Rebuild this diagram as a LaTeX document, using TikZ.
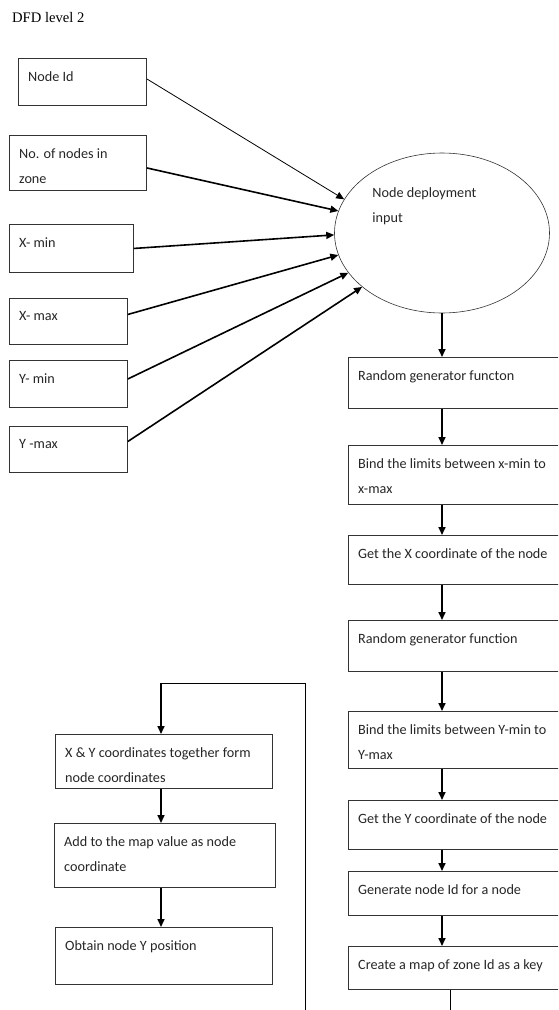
\documentclass[tikz,border=0pt]{standalone}
\usepackage{fontspec}
\setmainfont{Liberation Serif}
\newfontfamily\boxfont{Carlito}
\usetikzlibrary{shapes.geometric,arrows.meta}

\begin{document}
\begin{tikzpicture}[x=1pt,y=-1pt,
    procbox/.style={draw=black!80, line width=0.9pt, rectangle, anchor=north west, inner sep=0pt},
    txt/.style={anchor=north west, inner sep=0pt, align=left, text=black!85,
        font=\boxfont\fontsize{14.2}{25}\selectfont},
    boxtext/.style={txt, xshift=10pt, yshift=-13.5pt},
    flow/.style={line width=1.6pt, -{Triangle[length=8pt,width=7pt]}},
    link/.style={line width=0.7pt}]
    % Fix the page
    \clip (0,0) rectangle (558,1010);
    % Add the title
    \node[anchor=base west, inner sep=0pt, font=\fontsize{14.6}{16}\selectfont] (title) at (12,22) {DFD level 2};
    % Draw the input boxes
    \node[procbox, minimum width=128pt, minimum height=47pt, label={[boxtext]north west:Node Id}] (nodeid) at (18,58) {};
    \node[procbox, minimum width=137pt, minimum height=55pt, label={[boxtext]north west:No. of nodes in\\zone}] (nzone) at (9,135) {};
    \node[procbox, minimum width=124pt, minimum height=48pt, label={[boxtext]north west:X- min}] (xmin) at (9,224) {};
    \node[procbox, minimum width=118pt, minimum height=46pt, label={[boxtext]north west:X- max}] (xmax) at (9,298) {};
    \node[procbox, minimum width=118pt, minimum height=47pt, label={[boxtext]north west:Y- min}] (ymin) at (9,360) {};
    \node[procbox, minimum width=118pt, minimum height=46pt, label={[boxtext]north west:Y -max}] (ymax) at (9,426) {};
    % Draw the deployment ellipse
    \node[ellipse, draw=black!80, line width=0.6pt, minimum width=215pt, minimum height=160pt,
        label={[txt, xshift=38pt, yshift=46pt]west:Node deployment\\input}] (deploy) at (442,233) {};
    % Draw the inputs going into the ellipse
    \draw[flow, line width=0.8pt] ([yshift=3pt]nodeid.east) -- (deploy.161);
    \draw[flow] ([yshift=-5pt]nzone.east) -- (deploy.168);
    \draw[flow] (xmin.east) -- (deploy.181);
    \draw[flow] ([yshift=7pt]xmax.east) -- (deploy.192);
    \draw[flow] ([yshift=5pt]ymin.east) -- (deploy.203);
    \draw[flow] ([yshift=8pt]ymax.east) -- (deploy.214);
    % Draw the right column of steps
    \node[procbox, minimum width=232pt, minimum height=51pt, label={[boxtext]north west:Random generator functon}] (rgen) at (348,357) {};
    \node[procbox, minimum width=232pt, minimum height=59pt, label={[boxtext]north west:Bind the limits between x-min to\\x-max}] (bindx) at (348,445) {};
    \node[procbox, minimum width=232pt, minimum height=49pt, label={[boxtext]north west:Get the X coordinate of the node}] (getx) at (348,535) {};
    \node[procbox, minimum width=232pt, minimum height=51pt, label={[boxtext]north west:Random generator function}] (rgenb) at (348,620) {};
    \node[procbox, minimum width=232pt, minimum height=57pt, label={[boxtext]north west:Bind the limits between Y-min to\\Y-max}] (bindy) at (348,711) {};
    \node[procbox, minimum width=232pt, minimum height=49pt, label={[boxtext]north west:Get the Y coordinate of the node}] (gety) at (348,800) {};
    \node[procbox, minimum width=232pt, minimum height=44pt, label={[boxtext]north west:Generate node Id for a node}] (genid) at (348,871) {};
    \node[procbox, minimum width=232pt, minimum height=43pt, label={[boxtext]north west:Create a map of zone Id as a key}] (mkmap) at (348,946) {};
    % Connect the right column
    \draw[flow] (deploy.south) -- (deploy.south |- rgen.north);
    \draw[flow] (rgen.south -| deploy.south) -- (bindx.north -| deploy.south);
    \draw[flow] (bindx.south -| deploy.south) -- (getx.north -| deploy.south);
    \draw[flow] (getx.south -| deploy.south) -- (rgenb.north -| deploy.south);
    \draw[flow] (rgenb.south -| deploy.south) -- (bindy.north -| deploy.south);
    \draw[flow] (bindy.south -| deploy.south) -- (gety.north -| deploy.south);
    \draw[flow] (gety.south -| deploy.south) -- (genid.north -| deploy.south);
    \draw[flow] (genid.south -| deploy.south) -- (mkmap.north -| deploy.south);
    \coordinate (mapout) at (450,1010);
    \draw[link] (mkmap.south -| mapout) -- (mapout);
    % Draw the left column of steps
    \node[procbox, minimum width=217pt, minimum height=54pt, label={[boxtext]north west:X \& Y coordinates together form\\node coordinates}] (xyform) at (55,734) {};
    \node[procbox, minimum width=221pt, minimum height=64pt, label={[boxtext]north west:Add to the map value as node\\coordinate}] (addmap) at (54,823) {};
    \node[procbox, minimum width=217pt, minimum height=57pt, label={[boxtext]north west:Obtain node Y position}] (obtain) at (55,927) {};
    % Draw the loop back into the left column
    \coordinate (loopfoot) at (305,1010);
    \coordinate (looptop) at (305,683);
    \coordinate (loopturn) at (161,683);
    \draw[link] (loopfoot) -- (looptop) -- (loopturn);
    \draw[flow] (loopturn) -- (loopturn |- xyform.north);
    \draw[flow] (xyform.south -| loopturn) -- (addmap.north -| loopturn);
    \draw[flow] (addmap.south -| loopturn) -- (obtain.north -| loopturn);
\end{tikzpicture}
\end{document}
